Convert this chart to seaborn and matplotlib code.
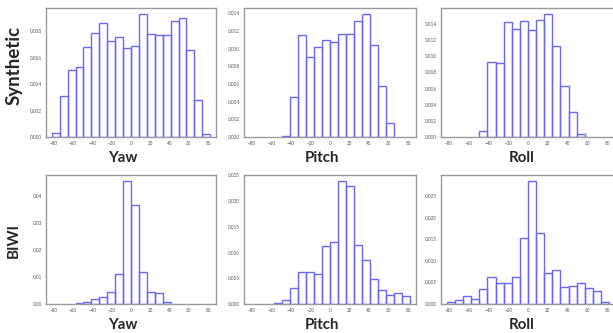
import numpy as np
import pandas as pd
import matplotlib
matplotlib.use("Agg")
import matplotlib.pyplot as plt
from matplotlib.ticker import MultipleLocator
import seaborn as sns

# histogram densities, bins of equal width
BIN_WIDTH = 8.2
angles = ["Yaw", "Pitch", "Roll"]
datasets = ["Synthetic", "BIWI"]

syn_yaw_start = -10
syn_yaw = [0.00033, 0.0031, 0.0051, 0.0053, 0.0068, 0.0079, 0.0086, 0.0073, 0.0076, 0.0067,
           0.0069, 0.0093, 0.0078, 0.0077, 0.0077, 0.0088, 0.0090, 0.0066, 0.0028, 0.00025]
syn_pitch_start = -6
syn_pitch = [0.0001, 0.0045, 0.0115, 0.0090, 0.0102, 0.0110, 0.0108, 0.0117, 0.0116, 0.0131,
             0.0139, 0.0104, 0.0058, 0.0016]
syn_roll_start = -6
syn_roll = [0.0007, 0.0093, 0.0092, 0.0142, 0.0134, 0.0144, 0.0133, 0.0145, 0.0152, 0.0112,
            0.0063, 0.0031, 0.0004]

biwi_yaw_start = -7
biwi_yaw = [0.0005, 0.0006, 0.0020, 0.0027, 0.0046, 0.0110, 0.0457, 0.0369, 0.0118, 0.0043,
            0.0040, 0.0007]
biwi_pitch_start = -7
biwi_pitch = [0.0002, 0.0008, 0.0031, 0.0062, 0.0062, 0.0058, 0.0112, 0.0121, 0.0239, 0.0230,
              0.0115, 0.0085, 0.0048, 0.0027, 0.0017, 0.0022, 0.0015]
biwi_roll_start = -10
biwi_roll = [0.0005, 0.0009, 0.0018, 0.0012, 0.0035, 0.0062, 0.0048, 0.0048, 0.0062, 0.0154,
             0.0285, 0.0165, 0.0072, 0.0078, 0.0040, 0.0041, 0.0049, 0.0038, 0.0030, 0.0004]

panels = [
    [(syn_yaw_start, syn_yaw), (syn_pitch_start, syn_pitch), (syn_roll_start, syn_roll)],
    [(biwi_yaw_start, biwi_yaw), (biwi_pitch_start, biwi_pitch), (biwi_roll_start, biwi_roll)],
]
y_steps = [[0.002, 0.002, 0.002], [0.01, 0.005, 0.005]]
x_ticks = list(range(-80, 81, 20))

W, H = 613, 333
fig = plt.figure(figsize=(W / 100, H / 100), dpi=100)
sns.set_style("white")
plt.rcParams["font.family"] = ["Lato", "DejaVu Sans"]

# axes boxes in pixels: left, right, top, bottom
col_px = [(46, 216), (244, 416), (441, 615)]
row_px = [(8, 137), (175, 304)]
label_x = [123, 322, 522]

bar_color = "#6868ff"
spine_color = "#9a9a9a"

for r in range(2):
    for c in range(3):
        x0, x1 = col_px[c]
        t, b = row_px[r]
        ax = fig.add_axes([x0 / W, (H - b) / H, (x1 - x0) / W, (b - t) / H])
        start, heights = panels[r][c]
        edges = (start + np.arange(len(heights) + 1)) * BIN_WIDTH
        df = pd.DataFrame({"angle": (edges[:-1] + edges[1:]) / 2, "density": heights})
        sns.histplot(data=df, x="angle", weights="density", bins=edges.tolist(), fill=False,
                     color=bar_color, linewidth=1.0, ax=ax)
        ax.set_xlim(-88, 88)
        ax.set_xticks(x_ticks)
        ax.yaxis.set_major_locator(MultipleLocator(y_steps[r][c]))
        ax.set_ylabel("")
        ax.set_xlabel("")
        ax.tick_params(labelsize=3.3, length=1.5, width=0.5, pad=1.5,
                       colors="#555555", labelcolor="#555555")
        for s in ax.spines.values():
            s.set_visible(True)
            s.set_color(spine_color)
            s.set_linewidth(1.0)
        # big angle label under each panel
        fig.text(label_x[c] / W, (H - b - 21) / H, angles[c],
                 fontsize=10.8, fontweight="bold", ha="center", va="center")

fig.text(14 / W, (H - 65) / H, "Synthetic", rotation=90, fontsize=13.5,
         fontweight="bold", ha="center", va="center")
fig.text(14 / W, (H - 241) / H, "BIWI", rotation=90, fontsize=11,
         fontweight="bold", ha="center", va="center")

fig.savefig("out.png", dpi=100)
